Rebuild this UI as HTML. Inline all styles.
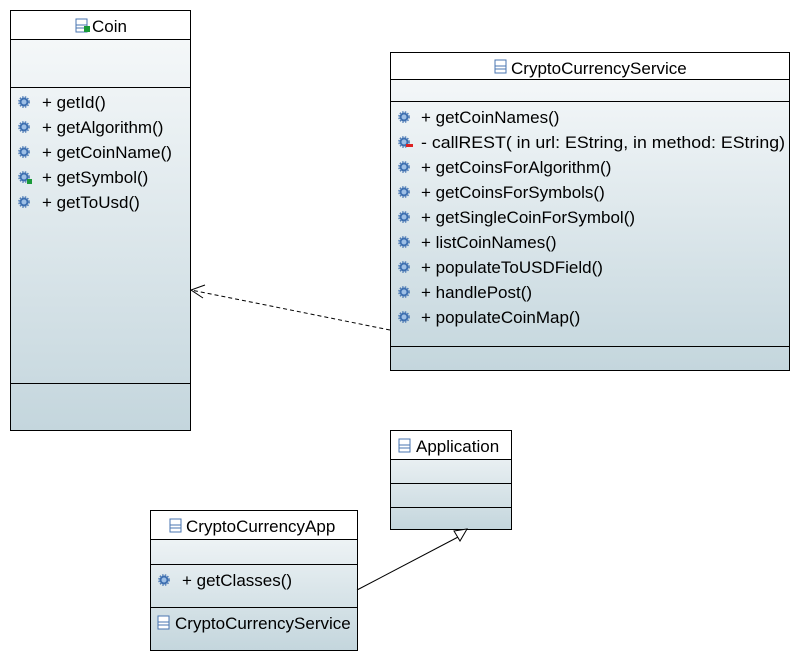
<!DOCTYPE html>
<html><head><meta charset="utf-8"><style>
html,body{margin:0;padding:0;background:#fff}
svg{display:block}
text{font-family:"Liberation Sans","DejaVu Sans",sans-serif;font-size:17px;fill:#000}
</style></head><body>
<svg width="799" height="661" viewBox="0 0 799 661" xmlns="http://www.w3.org/2000/svg">
<defs>
<linearGradient id="g" x1="0" y1="0" x2="0" y2="1">
<stop offset="0" stop-color="#f8fafb"/><stop offset="1" stop-color="#c4d6dd"/>
</linearGradient>
<g id="gear"><circle r="4.5" fill="#3d6fb0"/><circle r="2.5" fill="#9fc0e6"/><circle r="5.2" fill="none" stroke="#3d6fb0" stroke-width="1.2" stroke-dasharray="1.5 1.3"/></g>
<g id="cls"><rect x="-6" y="-7" width="11" height="13" fill="#fff" stroke="#4a76b0"/><line x1="-6" y1="-1" x2="5" y2="-1" stroke="#4a76b0"/><line x1="-6" y1="2" x2="5" y2="2" stroke="#4a76b0"/></g>
</defs>

<!-- Coin -->
<rect x="10.5" y="10.5" width="180" height="420" fill="url(#g)" stroke="#000"/>
<rect x="10.5" y="10.5" width="180" height="29" fill="#fff" stroke="#000"/>
<line x1="10" y1="87.5" x2="190" y2="87.5" stroke="#000"/>
<line x1="10" y1="383.5" x2="190" y2="383.5" stroke="#000"/>
<use href="#cls" x="82" y="26"/><rect x="84" y="26" width="6" height="6" fill="#1a9a3a"/>
<text x="92" y="32">Coin</text>
<use href="#gear" x="24" y="102"/><text x="42" y="108">+ getId()</text>
<use href="#gear" x="24" y="127"/><text x="42" y="133">+ getAlgorithm()</text>
<use href="#gear" x="24" y="152"/><text x="42" y="158">+ getCoinName()</text>
<use href="#gear" x="24" y="177"/><rect x="27" y="179" width="5" height="5" fill="#1a9a3a"/><text x="42" y="183">+ getSymbol()</text>
<use href="#gear" x="24" y="202"/><text x="42" y="208">+ getToUsd()</text>

<!-- Service -->
<rect x="390.5" y="52.5" width="399" height="318" fill="url(#g)" stroke="#000"/>
<rect x="390.5" y="52.5" width="399" height="27" fill="#fff" stroke="#000"/>
<line x1="390" y1="101.5" x2="789" y2="101.5" stroke="#000"/>
<line x1="390" y1="346.5" x2="789" y2="346.5" stroke="#000"/>
<use href="#cls" x="501" y="67"/>
<text x="511" y="74">CryptoCurrencyService</text>
<use href="#gear" x="404" y="117"/><text x="421" y="123">+ getCoinNames()</text>
<use href="#gear" x="404" y="142"/><rect x="406" y="144" width="7" height="3" fill="#d22"/><text x="421" y="148" textLength="364" lengthAdjust="spacingAndGlyphs">- callREST(  in url: EString,   in method: EString)</text>
<use href="#gear" x="404" y="167"/><text x="421" y="173">+ getCoinsForAlgorithm()</text>
<use href="#gear" x="404" y="192"/><text x="421" y="198">+ getCoinsForSymbols()</text>
<use href="#gear" x="404" y="217"/><text x="421" y="223">+ getSingleCoinForSymbol()</text>
<use href="#gear" x="404" y="242"/><text x="421" y="248">+ listCoinNames()</text>
<use href="#gear" x="404" y="267"/><text x="421" y="273">+ populateToUSDField()</text>
<use href="#gear" x="404" y="292"/><text x="421" y="298">+ handlePost()</text>
<use href="#gear" x="404" y="317"/><text x="421" y="323">+ populateCoinMap()</text>

<!-- Application -->
<rect x="390.5" y="430.5" width="121" height="99" fill="url(#g)" stroke="#000"/>
<rect x="390.5" y="430.5" width="121" height="29" fill="#fff" stroke="#000"/>
<line x1="390" y1="483.5" x2="511" y2="483.5" stroke="#000"/>
<line x1="390" y1="507.5" x2="511" y2="507.5" stroke="#000"/>
<use href="#cls" x="405" y="446"/>
<text x="416" y="452">Application</text>

<!-- CryptoCurrencyApp -->
<rect x="150.5" y="510.5" width="207" height="140" fill="url(#g)" stroke="#000"/>
<rect x="150.5" y="510.5" width="207" height="29" fill="#fff" stroke="#000"/>
<line x1="150" y1="564.5" x2="357" y2="564.5" stroke="#000"/>
<line x1="150" y1="607.5" x2="357" y2="607.5" stroke="#000"/>
<use href="#cls" x="176" y="526"/>
<text x="186" y="532">CryptoCurrencyApp</text>
<use href="#gear" x="164" y="580"/><text x="182" y="586">+ getClasses()</text>
<use href="#cls" x="164" y="623"/>
<text x="175" y="629">CryptoCurrencyService</text>

<!-- dependency -->
<line x1="390" y1="330" x2="191" y2="290" stroke="#000" stroke-dasharray="4 3"/>
<polyline points="205,285 191,290 203,298" fill="none" stroke="#000"/>

<!-- generalization -->
<line x1="357" y1="590" x2="460" y2="536" stroke="#000"/>
<polygon points="467,529 454,531 460,541" fill="#fff" stroke="#000"/>
</svg>
</body></html>
